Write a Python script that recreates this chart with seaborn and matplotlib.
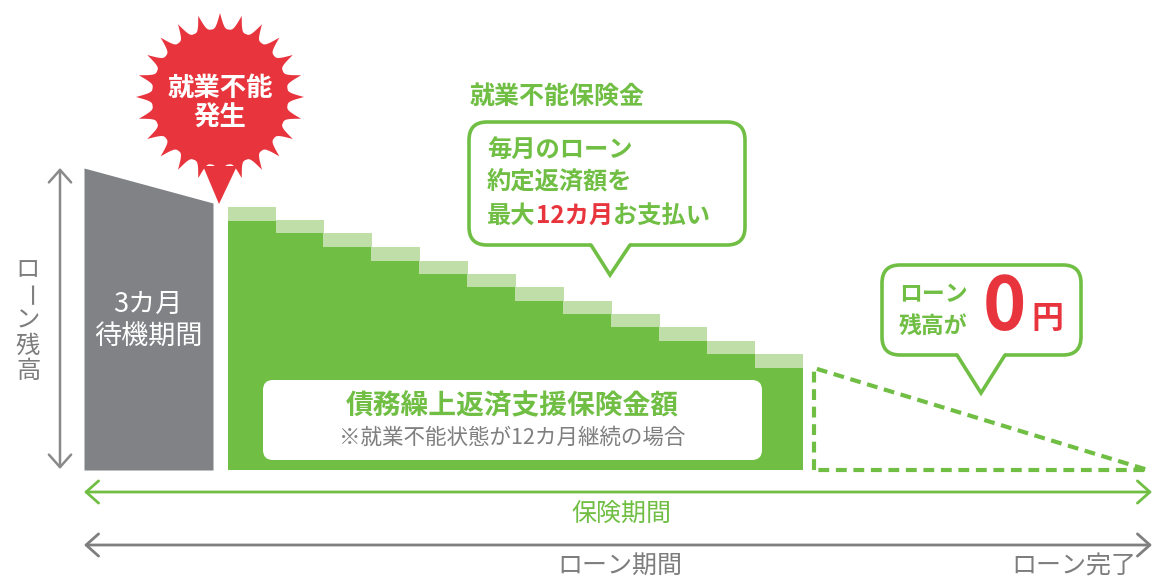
import numpy as np
import matplotlib
matplotlib.use("Agg")
import matplotlib.pyplot as plt
import seaborn as sns
from matplotlib.patches import FancyBboxPatch, Polygon

# ---------------- data ----------------
wait_balance = [302, 267]            # loan balance at start / end of 3-month waiting period
months = list(range(1, 13))          # 12 months of benefit payments
loan_balance = [249, 237, 223, 209, 196, 183, 169, 156, 143, 129, 116, 102]
monthly_payment = [14, 13, 14, 14, 13, 13, 14, 13, 13, 14, 13, 14]
after_balance = [102, 0]             # remaining balance after payments -> 0 at loan end

# ---------------- style ----------------
sns.set_theme(style="white")
plt.rcParams['font.family'] = ['Noto Sans CJK JP', 'DejaVu Sans']

GREEN = "#70bf44"
LIGHT = "#c0dea8"
GREY = "#808285"
RED = "#e8353d"
TGREY = "#7d7d7d"

W, H, BASE = 1155, 578, 470
fig = plt.figure(figsize=(W / 100, H / 100), dpi=100)
ax = fig.add_axes([0, 0, 1, 1])


def Y(row):
    return BASE - row


# waiting period block
ax.fill_between([84, 213], [0, 0], wait_balance, color=GREY, lw=0, zorder=2)

# benefit-period steps
X0, STEP = 228, 47.9
xc = X0 + (np.array(months) - 0.5) * STEP
sns.barplot(x=xc, y=loan_balance, native_scale=True, width=1.02, color=GREEN,
            saturation=1, ax=ax, linewidth=0, zorder=2)
ax.bar(xc, monthly_payment, bottom=loan_balance, width=STEP + 0.8, color=LIGHT,
       linewidth=0, zorder=2)

# dashed remainder triangle
ax.plot([814, 814, 1148, 814], [0, after_balance[0], after_balance[1], 0],
        color=GREEN, lw=3.0, dashes=(2.6, 1.6), dash_capstyle='butt', zorder=2)

ax.set_xlim(0, W)
ax.set_ylim(BASE - H, BASE)
ax.axis('off')
ax.set_xlabel('')
ax.set_ylabel('')

# ---------------- starburst ----------------
cx, cy = 220, Y(97)
n = 24
th = np.linspace(0, 2 * np.pi, 1200, endpoint=False)
rr = 68 + 16 * (1 - np.abs(np.sin(n * (th - np.pi / 2) / 2))) ** 1.6
ax.add_patch(Polygon(np.c_[cx + rr * np.cos(th), cy + rr * np.sin(th)],
                     closed=True, fc=RED, ec='none', zorder=3))
ax.add_patch(Polygon([(203, Y(166)), (237, Y(166)), (219, Y(204))],
                     closed=True, fc=RED, ec='none', zorder=3))
ax.text(220, Y(88), "就業不能", color='white', fontsize=19, weight='bold',
        ha='center', va='center', zorder=4)
ax.text(220, Y(118), "発生", color='white', fontsize=19, weight='bold',
        ha='center', va='center', zorder=4)


# ---------------- bubbles ----------------
def bubble(x0, r0, x1, r1, tipx, tiprow, bx0, bx1, rs=18, lw=2.6):
    ax.add_patch(FancyBboxPatch((x0, Y(r1)), x1 - x0, r1 - r0,
                                boxstyle=f"round,pad=0,rounding_size={rs}",
                                fc='white', ec=GREEN, lw=lw, zorder=5))
    ax.add_patch(Polygon([(bx0, Y(r1) + 3), (bx0, Y(r1)), (tipx, Y(tiprow)),
                          (bx1, Y(r1)), (bx1, Y(r1) + 3)],
                         closed=True, fc='white', ec='none', zorder=6))
    ax.plot([bx0, tipx, bx1], [Y(r1), Y(tiprow), Y(r1)], color=GREEN, lw=lw,
            solid_joinstyle='miter', zorder=6)


bubble(469, 122, 745, 245, 610, 275, 591, 630)
bubble(882, 265, 1081, 355, 981, 393, 957, 1005)

ax.text(470, Y(97), "就業不能保険金", color=GREEN, fontsize=18, weight='bold',
        ha='left', va='center', zorder=7)
ax.text(487, Y(150), "毎月のローン", color=GREEN, fontsize=17.5, weight='bold',
        ha='left', va='center', zorder=7)
ax.text(487, Y(183), "約定返済額を", color=GREEN, fontsize=17.5, weight='bold',
        ha='left', va='center', zorder=7)

fig.canvas.draw()
renderer = fig.canvas.get_renderer()


def seq_text(x, y, parts, **kw):
    for s, c in parts:
        t = ax.text(x, y, s, color=c, ha='left', va='center', zorder=7, **kw)
        bb = t.get_window_extent(renderer=renderer)
        x += bb.width


seq_text(487, Y(216), [("最大", GREEN), ("12カ月", RED), ("お支払い", GREEN)],
         fontsize=17.5, weight='bold')

ax.text(899, Y(295), "ローン", color=GREEN, fontsize=16.5, weight='bold',
        ha='left', va='center', zorder=7)
ax.text(899, Y(326), "残高が", color=GREEN, fontsize=16.5, weight='bold',
        ha='left', va='center', zorder=7)
ax.text(1004, Y(309), "0", color=RED, fontsize=53, weight='bold',
        ha='center', va='center', zorder=7)
ax.text(1047, Y(319), "円", color=RED, fontsize=23, weight='bold',
        ha='center', va='center', zorder=7)

# ---------------- inner white label ----------------
ax.add_patch(FancyBboxPatch((263, Y(460)), 499, 80,
                            boxstyle="round,pad=0,rounding_size=10",
                            fc='white', ec='none', zorder=5))
ax.text(512, Y(406), "債務繰上返済支援保険金額", color=GREEN, fontsize=20,
        weight='bold', ha='center', va='center', zorder=7)
ax.text(512, Y(438), "※就業不能状態が12カ月継続の場合", color="#7f7f7f",
        fontsize=15.5, ha='center', va='center', zorder=7)

# grey block label
ax.text(148, Y(304), "3カ月", color='white', fontsize=19.5, ha='center',
        va='center', zorder=7)
ax.text(148, Y(337), "待機期間", color='white', fontsize=19.5, ha='center',
        va='center', zorder=7)

# vertical axis label
for ch, row in zip("ローン残高", [270, 296, 321, 346, 371]):
    ax.text(28, Y(row), ch, color=TGREY, fontsize=17.5, ha='center', va='center',
            rotation=(-90 if ch == 'ー' else 0), zorder=7)


# ---------------- arrows ----------------
def darrow(p0, p1, color, lw=2.0):
    ax.annotate('', xy=p1, xytext=p0,
                arrowprops=dict(arrowstyle='<->,head_length=0.45,head_width=0.4',
                                color=color, lw=lw, shrinkA=0, shrinkB=0,
                                mutation_scale=20), zorder=7)


darrow((60, Y(168)), (60, Y(469)), "#8a8a8a", lw=1.8)
darrow((84, Y(492)), (1152, Y(492)), GREEN, lw=2.0)
darrow((84, Y(545)), (1152, Y(545)), "#7f7f7f", lw=2.0)

ax.text(621, Y(515), "保険期間", color=GREEN, fontsize=18, ha='center',
        va='center', zorder=7)
ax.text(620, Y(566), "ローン期間", color=TGREY, fontsize=18, ha='center',
        va='center', zorder=7)
ax.text(1074, Y(566), "ローン完了", color=TGREY, fontsize=18, ha='center',
        va='center', zorder=7)

fig.savefig("out.png", dpi=100)
